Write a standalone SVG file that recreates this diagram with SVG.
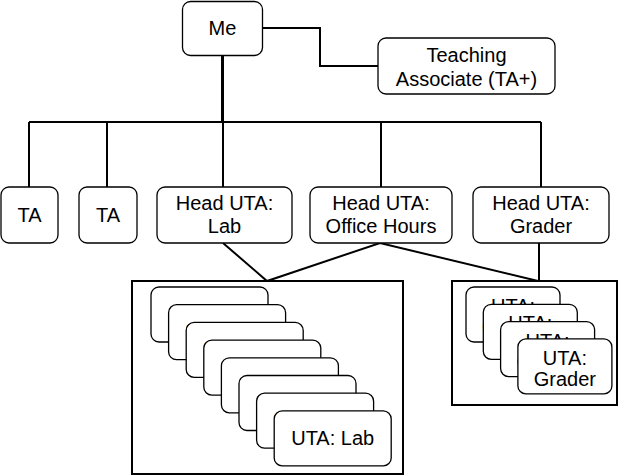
<svg xmlns="http://www.w3.org/2000/svg" width="624" height="476" viewBox="0 0 624 476">
<style>
.box{fill:#fff;stroke:#000;stroke-width:1.3}
.cont{fill:#fff;stroke:#000;stroke-width:2}
.ln{fill:none;stroke:#000;stroke-width:2}
.t{font-family:"Liberation Sans",Arial,sans-serif;font-size:20px;text-anchor:middle;fill:#000}
</style>
<rect width="624" height="476" fill="#fff"/>
<g id="connectors">
<path class="ln" d="M262.5,28 H320 V66 H378"/>
<path class="ln" d="M222.5,55 V122" style="stroke-width:3"/>
<path class="ln" d="M29,122 H541"/>
<path class="ln" d="M29,122 V187 M107,122 V187 M223,122 V187 M381,122 V187 M541,122 V187"/>
<path class="ln" d="M223,243 L267,281 L380,243 L538,281"/>
<path class="ln" d="M539,243 V281"/>
</g>
<g id="me"><rect class="box" x="182.5" y="1.5" width="80" height="54" rx="8"/><text class="t" x="222.5" y="35">Me</text></g>
<g id="ta-plus"><rect class="box" x="378" y="38" width="177" height="56" rx="8"/><text class="t" x="466.5" y="62">Teaching</text><text class="t" x="466.5" y="86">Associate (TA+)</text></g>
<g id="ta1"><rect class="box" x="1" y="187" width="57" height="56" rx="8"/><text class="t" x="29.5" y="222">TA</text></g>
<g id="ta2"><rect class="box" x="79" y="187" width="58" height="56" rx="8"/><text class="t" x="108" y="222">TA</text></g>
<g id="head-lab"><rect class="box" x="157" y="187" width="135" height="56" rx="8"/><text class="t" x="224.5" y="210">Head UTA:</text><text class="t" x="224.5" y="233">Lab</text></g>
<g id="head-oh"><rect class="box" x="310" y="187" width="142" height="56" rx="8"/><text class="t" x="381" y="210">Head UTA:</text><text class="t" x="381" y="233">Office Hours</text></g>
<g id="head-grader"><rect class="box" x="473" y="187" width="136" height="56" rx="8"/><text class="t" x="541" y="210">Head UTA:</text><text class="t" x="541" y="233">Grader</text></g>
<g id="lab-group">
<rect class="cont" x="132" y="281" width="271" height="193"/>
<g><rect class="box" x="151" y="287" width="117" height="55" rx="8"/><text class="t" x="209.5" y="321.5">UTA: Lab</text></g>
<g><rect class="box" x="168.6" y="304.7" width="117" height="55" rx="8"/><text class="t" x="227.1" y="339.2">UTA: Lab</text></g>
<g><rect class="box" x="186.2" y="322.4" width="117" height="55" rx="8"/><text class="t" x="244.7" y="356.9">UTA: Lab</text></g>
<g><rect class="box" x="203.8" y="340.1" width="117" height="55" rx="8"/><text class="t" x="262.3" y="374.6">UTA: Lab</text></g>
<g><rect class="box" x="221.4" y="357.8" width="117" height="55" rx="8"/><text class="t" x="279.9" y="392.3">UTA: Lab</text></g>
<g><rect class="box" x="239" y="375.5" width="117" height="55" rx="8"/><text class="t" x="297.5" y="410">UTA: Lab</text></g>
<g><rect class="box" x="256.6" y="393.2" width="117" height="55" rx="8"/><text class="t" x="315.1" y="427.7">UTA: Lab</text></g>
<g><rect class="box" x="274.2" y="410.9" width="117" height="55" rx="8"/><text class="t" x="332.7" y="445.4">UTA: Lab</text></g>
</g>
<g id="grader-group">
<rect class="cont" x="452" y="281" width="165" height="124"/>
<g><rect class="box" x="466" y="287" width="94" height="55" rx="8"/><text class="t" x="513" y="313">UTA:</text><text class="t" x="513" y="334">Grader</text></g>
<g><rect class="box" x="483.3" y="304.3" width="94" height="55" rx="8"/><text class="t" x="530.3" y="330.3">UTA:</text><text class="t" x="530.3" y="351.3">Grader</text></g>
<g><rect class="box" x="500.6" y="321.6" width="94" height="55" rx="8"/><text class="t" x="547.6" y="347.6">UTA:</text><text class="t" x="547.6" y="368.6">Grader</text></g>
<g><rect class="box" x="517.9" y="338.9" width="94" height="55" rx="8"/><text class="t" x="564.9" y="364.9">UTA:</text><text class="t" x="564.9" y="385.9">Grader</text></g>
</g>
</svg>
